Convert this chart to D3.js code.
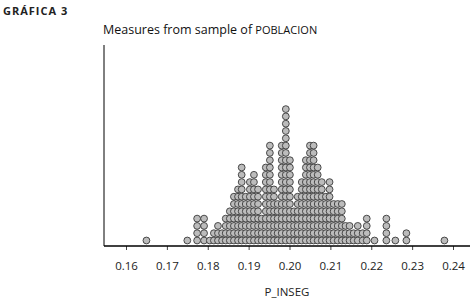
<!DOCTYPE html>
<html>
<head>
<meta charset="utf-8">
<script src="https://cdn.jsdelivr.net/npm/d3@7"></script>
<style>
  body { margin: 0; background: #fff; }
  svg { display: block; font-family: "Open Sans", "DejaVu Sans", sans-serif; }
</style>
</head>
<body>
<div id="chart"></div>
<script>
// Dot columns: value of each column and number of stacked dots
const columnValues = [
  0.165, 0.175, 0.1774, 0.1791, 0.1805, 0.1815, 0.1825, 0.1835, 0.1844, 0.1854,
  0.1864, 0.1874, 0.1883, 0.1893, 0.1903, 0.1913, 0.1923, 0.1932, 0.1942, 0.1952,
  0.1962, 0.1971, 0.1981, 0.1991, 0.2001, 0.2011, 0.2020, 0.2030, 0.2040, 0.2050,
  0.2059, 0.2069, 0.2079, 0.2089, 0.2098, 0.2108, 0.2118, 0.2128, 0.2137, 0.2147,
  0.2157, 0.2167, 0.2179, 0.2189, 0.2208, 0.2237, 0.2259, 0.2286, 0.2379
];
const columnCounts = [
  1, 1, 4, 4, 1, 2, 3, 2, 4, 5,
  7, 8, 11, 7, 9, 10, 8, 4, 11, 14,
  8, 6, 14, 19, 12, 5, 7, 9, 12, 14,
  14, 11, 9, 7, 9, 6, 6, 6, 3, 3,
  2, 3, 2, 4, 1, 4, 1, 2, 1
];
const xTicks = [0.16, 0.17, 0.18, 0.19, 0.20, 0.21, 0.22, 0.23, 0.24];

const width = 476, height = 301;
const margin = { top: 45, right: 6, bottom: 55, left: 104 };

const svg = d3.select("#chart").append("svg")
  .attr("width", width)
  .attr("height", height);

// Headings
svg.append("text")
  .attr("x", 3)
  .attr("y", 15)
  .attr("font-size", "11px")
  .attr("font-weight", "bold")
  .attr("letter-spacing", "1px")
  .attr("fill", "#222")
  .text("GRÁFICA 3");

const title = svg.append("text")
  .attr("x", 103)
  .attr("y", 34)
  .attr("font-size", "12.5px")
  .attr("fill", "#111");
title.append("tspan").text("Measures from sample of ");
title.append("tspan").attr("font-size", "11px").text("POBLACION");

const axisY = height - margin.bottom;  // baseline of the plot

const x = d3.scaleLinear()
  .domain([0.16, 0.24])
  .range([126, 453]);

// stack index -> vertical position of the dot centre
const y = d3.scaleLinear()
  .domain([0, 1])
  .range([axisY - 5.5, axisY - 5.5 - 7.3]);

// Build dots from columns
const dots = [];
columnValues.forEach((v, i) => {
  for (let k = 0; k < columnCounts[i]; k++) dots.push({ v, k });
});

svg.append("g")
  .selectAll("circle")
  .data(dots)
  .join("circle")
  .attr("cx", d => x(d.v))
  .attr("cy", d => y(d.k))
  .attr("r", 3.4)
  .attr("fill", "#bcbcbc")
  .attr("stroke", "#3a3a3a")
  .attr("stroke-width", 0.9);

// Axes
svg.append("line")
  .attr("x1", margin.left).attr("x2", margin.left)
  .attr("y1", margin.top).attr("y2", axisY)
  .attr("stroke", "#000").attr("stroke-width", 1);

const xAxis = svg.append("g")
  .attr("transform", `translate(0,${axisY})`)
  .call(d3.axisBottom(x).tickValues(xTicks).tickFormat(d3.format(".2f")).tickSize(4).tickPadding(12));
xAxis.select(".domain").remove();
xAxis.selectAll(".tick line").attr("stroke", "#444");
xAxis.selectAll(".tick text")
  .attr("font-size", "11.5px")
  .attr("font-family", "\"Open Sans\", \"DejaVu Sans\", sans-serif")
  .attr("fill", "#222");

svg.append("line")
  .attr("x1", margin.left).attr("x2", width - margin.right)
  .attr("y1", axisY).attr("y2", axisY)
  .attr("stroke", "#000").attr("stroke-width", 1.3);

// X label
svg.append("text")
  .attr("x", 287)
  .attr("y", 296)
  .attr("text-anchor", "middle")
  .attr("font-size", "11.5px")
  .attr("fill", "#222")
  .text("P_INSEG");
</script>
</body>
</html>
